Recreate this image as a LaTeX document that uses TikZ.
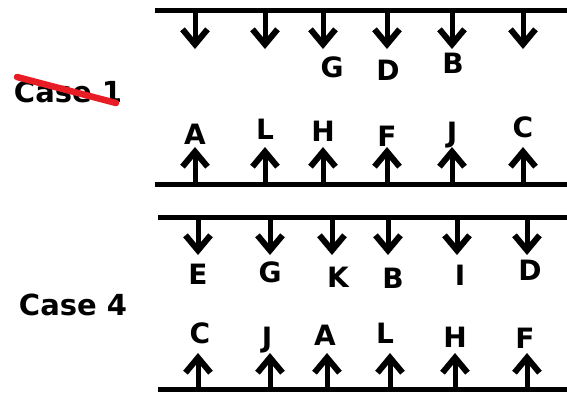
\documentclass[tikz,border=0pt]{standalone}
\usepackage{fontspec}
\setmainfont{DejaVu Sans}
\usetikzlibrary{arrows.meta}
\definecolor{strike}{RGB}{232,28,36}
\tikzset{
  rail/.style={line width=5pt},
  arr/.style={line width=5pt,-{Straight Barb[length=15pt,width=25pt,line width=6pt]}},
  lbl/.style={font=\bfseries\fontsize{28}{28}\selectfont,inner sep=0pt,text height=20pt,text depth=0pt},
  casetxt/.style={font=\bfseries\fontsize{29}{29}\selectfont,inner sep=0pt,text height=21pt,text depth=0pt},
}
\begin{document}
\begin{tikzpicture}[x=1pt,y=-1pt]
\useasboundingbox (0,0) rectangle (567,392);
% rails
\coordinate (r1a) at (155,10.5);  \coordinate (r1b) at (567,10.5);
\coordinate (r2a) at (155,184); \coordinate (r2b) at (567,184);
\coordinate (r3a) at (158,217); \coordinate (r3b) at (567,217);
\coordinate (r4a) at (158,389); \coordinate (r4b) at (567,389);
\draw[rail] (r1a) -- (r1b);
\draw[rail] (r2a) -- (r2b);
\draw[rail] (r3a) -- (r3b);
\draw[rail] (r4a) -- (r4b);
% case 1 down arrows
\foreach \x [count=\i] in {195,265,323,387,452,523}{
  \coordinate (t1s\i) at (\x,10); \coordinate (t1e\i) at (\x,49);
  \draw[arr] (t1s\i) -- (t1e\i);
}
% case 1 up arrows
\foreach \x [count=\i] in {195,265,323,387,452,523}{
  \coordinate (b1s\i) at (\x,184); \coordinate (b1e\i) at (\x,147);
  \draw[arr] (b1s\i) -- (b1e\i);
}
% case 4 down arrows
\foreach \x [count=\i] in {198,270,332,388,457,527}{
  \coordinate (t4s\i) at (\x,217); \coordinate (t4e\i) at (\x,255);
  \draw[arr] (t4s\i) -- (t4e\i);
}
% case 4 up arrows
\foreach \x [count=\i] in {198,270,327,390,455,527}{
  \coordinate (b4s\i) at (\x,389); \coordinate (b4e\i) at (\x,353);
  \draw[arr] (b4s\i) -- (b4e\i);
}
% case 1 labels
\node[lbl] (g1) at (332,67) {G};
\node[lbl] (d1) at (388,70) {D};
\node[lbl] (bb1) at (453,63) {B};
\node[lbl] (a1) at (195,134) {A};
\node[lbl] (l1) at (265,129) {L};
\node[lbl] (h1) at (323,131) {H};
\node[lbl] (f1) at (387,136) {F};
\node[lbl] (j1) at (452,132) {J};
\node[lbl] (c1) at (523,127) {C};
% case 4 labels
\node[lbl] (e4) at (198,274) {E};
\node[lbl] (g4) at (270,272) {G};
\node[lbl] (k4) at (338,277) {K};
\node[lbl] (bb4) at (393,278) {B};
\node[lbl] (i4) at (460,275) {I};
\node[lbl] (d4) at (530,270) {D};
\node[lbl] (c4) at (200,333) {C};
\node[lbl] (j4) at (267,337) {J};
\node[lbl] (a4) at (325,335) {A};
\node[lbl] (l4) at (385,333) {L};
\node[lbl] (h4) at (455,337) {H};
\node[lbl] (f4) at (525,338) {F};
% case labels
\node[casetxt] (case1) at (68,92) {Case 1};
\node[casetxt] (case4) at (73,305) {Case 4};
\coordinate (s1) at (17,77);
\coordinate (s2) at (116,103);
\draw[strike,line width=6.5pt,line cap=round] (s1) -- (s2);
\end{tikzpicture}
\end{document}
